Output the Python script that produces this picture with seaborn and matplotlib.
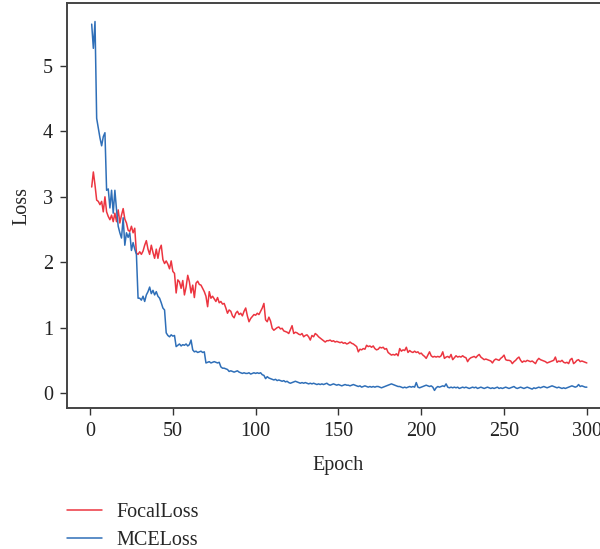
import numpy as np
import pandas as pd
import seaborn as sns
import matplotlib
matplotlib.use('Agg')
import matplotlib.pyplot as plt

epochs = list(range(1, 301))

focal_loss = [
    3.15, 3.38, 3.18, 2.95, 2.93, 2.88, 2.93, 2.77, 3.00, 2.77,
    2.70, 2.65, 2.72, 2.62, 2.75, 2.62, 2.80, 2.60, 2.72, 2.82,
    2.66, 2.60, 2.49, 2.47, 2.55, 2.45, 2.52, 2.14, 2.12, 2.16,
    2.12, 2.17, 2.26, 2.33, 2.20, 2.12, 2.26, 2.15, 2.06, 2.20,
    2.06, 2.20, 2.26, 2.04, 1.98, 2.02, 1.97, 1.90, 2.02, 1.86,
    1.83, 1.53, 1.73, 1.70, 1.60, 1.72, 1.50, 1.62, 1.80, 1.70,
    1.53, 1.65, 1.46, 1.68, 1.71, 1.66, 1.65, 1.60, 1.55, 1.48,
    1.32, 1.55, 1.45, 1.48, 1.44, 1.40, 1.46, 1.38, 1.40, 1.36,
    1.37, 1.30, 1.22, 1.27, 1.25, 1.18, 1.15, 1.22, 1.25, 1.20,
    1.22, 1.18, 1.25, 1.30, 1.18, 1.09, 1.14, 1.17, 1.20, 1.19,
    1.22, 1.20, 1.25, 1.30, 1.37, 1.12, 1.09, 1.16, 1.10, 0.99,
    0.96, 0.98, 1.00, 1.01, 0.98, 0.99, 0.95, 0.94, 0.93, 0.91,
    0.97, 1.03, 0.91, 0.93, 0.92, 0.90, 0.89, 0.91, 0.86, 0.88,
    0.89, 0.86, 0.81, 0.88, 0.86, 0.91, 0.89, 0.86, 0.84, 0.82,
    0.80, 0.78, 0.80, 0.80, 0.81, 0.79, 0.80, 0.78, 0.79, 0.78,
    0.77, 0.78, 0.76, 0.77, 0.75, 0.76, 0.78, 0.76, 0.75, 0.73,
    0.71, 0.63, 0.67, 0.66, 0.68, 0.67, 0.73, 0.71, 0.72, 0.70,
    0.72, 0.68, 0.66, 0.67, 0.70, 0.69, 0.70, 0.67, 0.68, 0.62,
    0.60, 0.58, 0.59, 0.58, 0.60, 0.57, 0.68, 0.64, 0.66, 0.65,
    0.70, 0.62, 0.65, 0.63, 0.62, 0.64, 0.62, 0.63, 0.60, 0.61,
    0.58, 0.56, 0.53, 0.58, 0.63, 0.57, 0.55, 0.56, 0.55, 0.56,
    0.55, 0.57, 0.63, 0.53, 0.55, 0.56, 0.54, 0.59, 0.51, 0.54,
    0.57, 0.55, 0.56, 0.55, 0.57, 0.55, 0.54, 0.48, 0.52, 0.54,
    0.55, 0.56, 0.54, 0.57, 0.59, 0.55, 0.53, 0.51, 0.52, 0.51,
    0.50, 0.49, 0.46, 0.50, 0.52, 0.51, 0.50, 0.53, 0.55, 0.58,
    0.51, 0.50, 0.50, 0.49, 0.45, 0.48, 0.50, 0.53, 0.55, 0.50,
    0.47, 0.49, 0.48, 0.50, 0.49, 0.48, 0.49, 0.47, 0.45, 0.50,
    0.53, 0.51, 0.50, 0.49, 0.48, 0.46, 0.47, 0.48, 0.49, 0.50,
    0.55, 0.47, 0.49, 0.48, 0.50, 0.47, 0.46, 0.47, 0.45, 0.51,
    0.53, 0.45, 0.47, 0.50, 0.51, 0.48, 0.49, 0.48, 0.47, 0.46,
]

mce_loss = [
    5.64, 5.27, 5.68, 4.20, 4.05, 3.90, 3.78, 3.92, 3.98, 3.10,
    3.12, 2.83, 3.10, 2.75, 3.10, 2.80, 2.55, 2.45, 2.37, 2.68,
    2.26, 2.45, 2.38, 2.45, 2.18, 2.30, 2.20, 2.12, 1.45, 1.45,
    1.42, 1.48, 1.40, 1.50, 1.55, 1.62, 1.52, 1.57, 1.50, 1.55,
    1.48, 1.45, 1.38, 1.30, 1.27, 0.92, 0.88, 0.86, 0.89, 0.87,
    0.88, 0.71, 0.73, 0.75, 0.72, 0.74, 0.73, 0.75, 0.72, 0.74,
    0.81, 0.66, 0.63, 0.64, 0.62, 0.63, 0.64, 0.62, 0.63, 0.46,
    0.47, 0.48, 0.46, 0.47, 0.48, 0.47, 0.46, 0.47, 0.40, 0.38,
    0.38, 0.37, 0.36, 0.33, 0.34, 0.33, 0.32, 0.33, 0.34, 0.32,
    0.31, 0.30, 0.31, 0.30, 0.30, 0.31, 0.29, 0.30, 0.31, 0.30,
    0.31, 0.30, 0.31, 0.28, 0.27, 0.22, 0.25, 0.23, 0.22, 0.21,
    0.20, 0.21, 0.19, 0.20, 0.19, 0.18, 0.19, 0.17, 0.18, 0.16,
    0.15, 0.16, 0.17, 0.18, 0.17, 0.16, 0.15, 0.16, 0.15, 0.16,
    0.15, 0.14, 0.15, 0.14, 0.15, 0.14, 0.13, 0.14, 0.13, 0.14,
    0.13, 0.14, 0.15, 0.13, 0.12, 0.13, 0.14, 0.13, 0.12, 0.13,
    0.12, 0.11, 0.12, 0.13, 0.12, 0.12, 0.11, 0.12, 0.13, 0.12,
    0.11, 0.10, 0.11, 0.09, 0.10, 0.11, 0.10, 0.09, 0.10, 0.09,
    0.10, 0.09, 0.10, 0.10, 0.09, 0.08, 0.09, 0.10, 0.11, 0.12,
    0.13, 0.14, 0.13, 0.12, 0.11, 0.10, 0.10, 0.09, 0.08, 0.09,
    0.08, 0.09, 0.10, 0.09, 0.10, 0.09, 0.16, 0.09, 0.08, 0.09,
    0.10, 0.11, 0.12, 0.11, 0.10, 0.11, 0.09, 0.04, 0.08, 0.10,
    0.09, 0.10, 0.11, 0.10, 0.14, 0.09, 0.08, 0.09, 0.08, 0.09,
    0.08, 0.09, 0.07, 0.08, 0.09, 0.08, 0.09, 0.08, 0.07, 0.08,
    0.09, 0.08, 0.09, 0.07, 0.08, 0.09, 0.08, 0.07, 0.08, 0.09,
    0.08, 0.07, 0.08, 0.07, 0.08, 0.09, 0.07, 0.08, 0.07, 0.08,
    0.09, 0.08, 0.07, 0.08, 0.09, 0.10, 0.08, 0.07, 0.08, 0.09,
    0.08, 0.07, 0.08, 0.09, 0.08, 0.07, 0.06, 0.08, 0.07, 0.08,
    0.09, 0.08, 0.09, 0.10, 0.09, 0.08, 0.09, 0.10, 0.11, 0.10,
    0.09, 0.08, 0.09, 0.08, 0.07, 0.08, 0.07, 0.08, 0.09, 0.10,
    0.11, 0.10, 0.09, 0.10, 0.13, 0.10, 0.11, 0.10, 0.09, 0.09,
]

series_names = ['FocalLoss', 'MCELoss']
colors = {'FocalLoss': '#ec3540', 'MCELoss': '#2f6fb8'}

df = pd.DataFrame({
    'Epoch': epochs * 2,
    'Loss': focal_loss + mce_loss,
    'Series': ['FocalLoss'] * len(epochs) + ['MCELoss'] * len(epochs),
})

sns.set_style('ticks')
plt.rcParams['font.family'] = ['Liberation Serif', 'DejaVu Serif']
fs = 14.5

fig = plt.figure(figsize=(6, 5.49), dpi=100)
ax = fig.add_axes([0.1117, 0.2568, 0.905, 0.7377])
sns.lineplot(data=df, x='Epoch', y='Loss', hue='Series', hue_order=series_names,
             palette=colors, linewidth=1.1, ax=ax, legend=False)

ax.set_xlim(-13.9, 314)
ax.set_ylim(-0.229, 5.963)
ax.set_xticks([0, 50, 100, 150, 200, 250, 300])
ax.set_yticks([0, 1, 2, 3, 4, 5])
ax.set_xlabel('Epoch', fontsize=fs, labelpad=11)
ax.set_ylabel('Loss', fontsize=fs, labelpad=8)
ax.tick_params(direction='out', length=5, width=1, colors='#333333', labelsize=fs, pad=5)
ax.tick_params(labelcolor='#222222')
for s in ax.spines.values():
    s.set_linewidth(1.4)
    s.set_color('#444444')

handles = [plt.Line2D([], [], color=colors[n], linewidth=1.1) for n in series_names]
fig.legend(handles, series_names, loc='upper left', bbox_to_anchor=(0.111, 0.084),
           bbox_transform=fig.transFigure, frameon=False, fontsize=fs,
           handlelength=1.75, handletextpad=0.7, labelspacing=0.45, borderaxespad=0,
           borderpad=0)

fig.savefig('out.png', dpi=100)
